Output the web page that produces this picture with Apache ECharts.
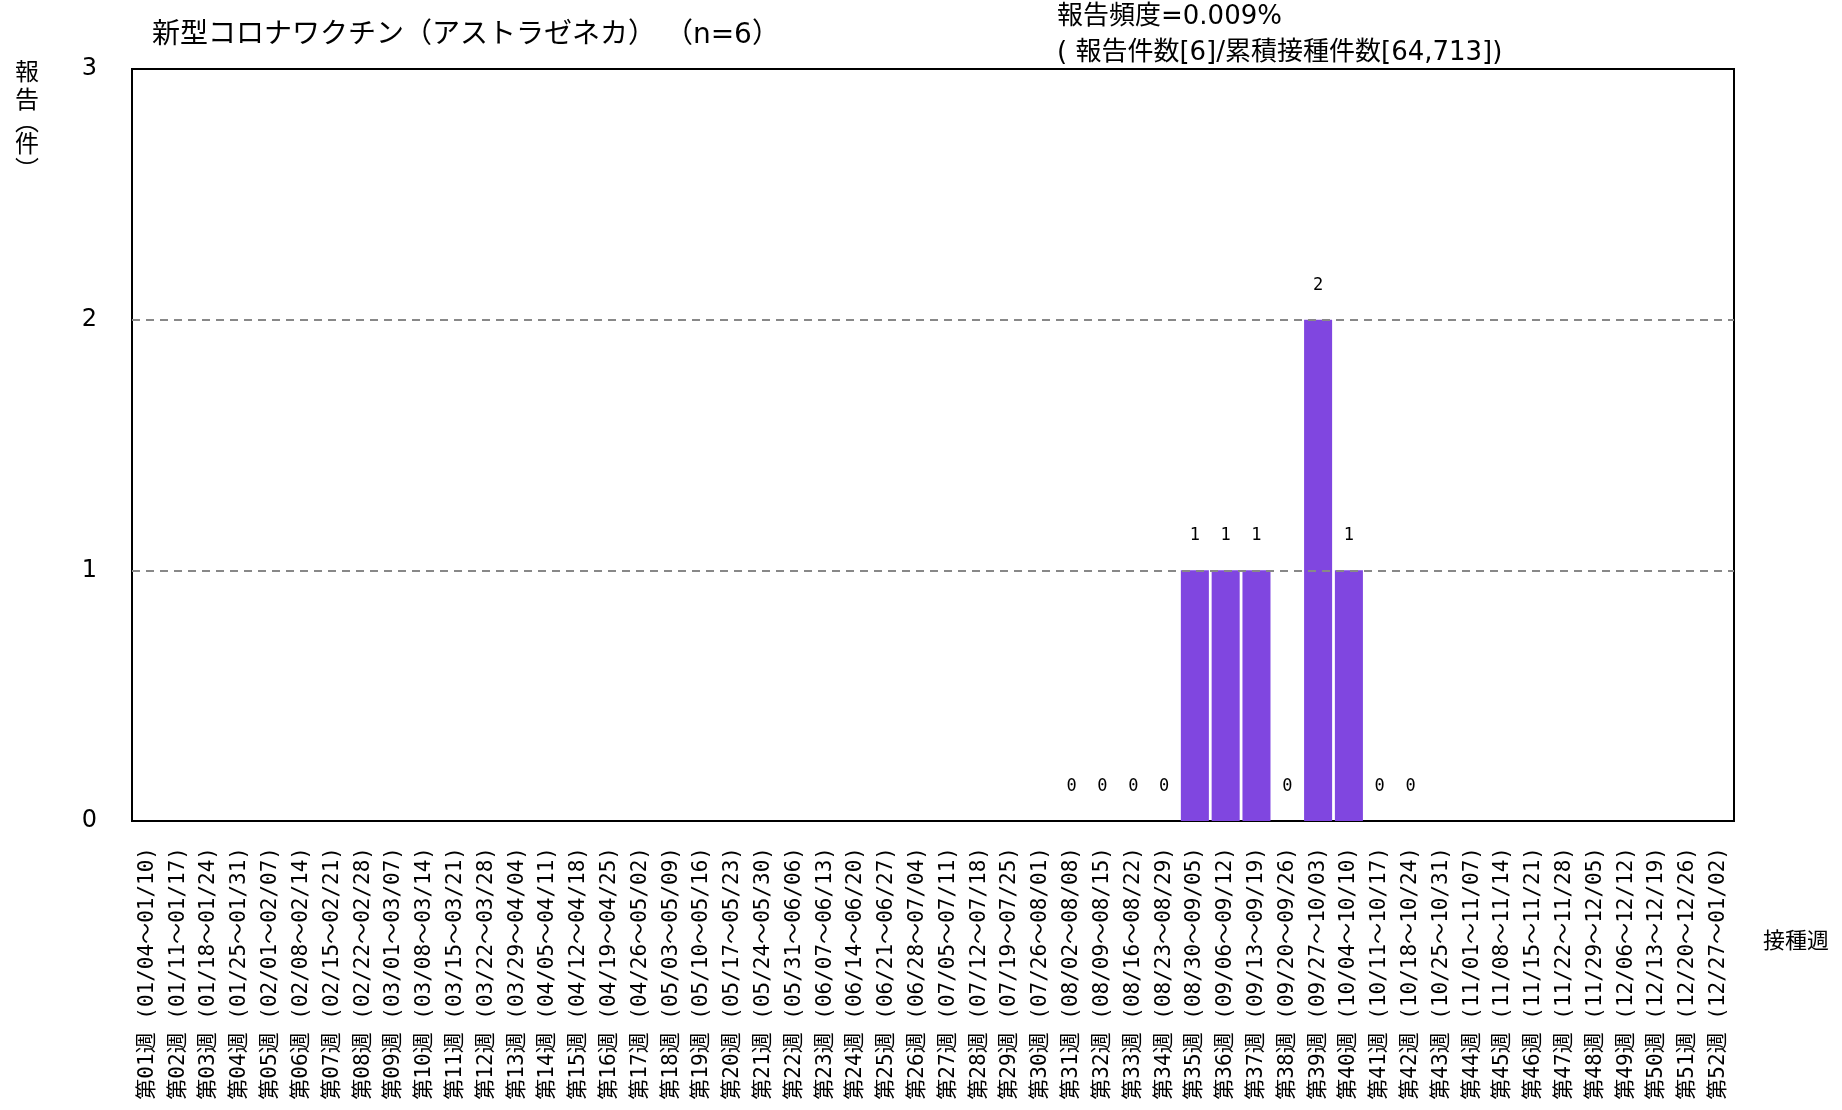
<!DOCTYPE html>
<html>
<head>
<meta charset="utf-8">
<script src="https://cdn.jsdelivr.net/npm/echarts@6/dist/echarts.min.js"></script>
<style>
html,body{margin:0;padding:0;background:#fff;}
#chart{width:1842px;height:1110px;}
</style>
</head>
<body>
<div id="chart"></div>
<script>
var weekNumbers = ['01','02','03','04','05','06','07','08','09','10','11','12','13','14','15','16','17','18','19','20','21','22','23','24','25','26','27','28','29','30','31','32','33','34','35','36','37','38','39','40','41','42','43','44','45','46','47','48','49','50','51','52'];
var weekRanges = ['01/04～01/10','01/11～01/17','01/18～01/24','01/25～01/31','02/01～02/07','02/08～02/14','02/15～02/21','02/22～02/28','03/01～03/07','03/08～03/14','03/15～03/21','03/22～03/28','03/29～04/04','04/05～04/11','04/12～04/18','04/19～04/25','04/26～05/02','05/03～05/09','05/10～05/16','05/17～05/23','05/24～05/30','05/31～06/06','06/07～06/13','06/14～06/20','06/21～06/27','06/28～07/04','07/05～07/11','07/12～07/18','07/19～07/25','07/26～08/01','08/02～08/08','08/09～08/15','08/16～08/22','08/23～08/29','08/30～09/05','09/06～09/12','09/13～09/19','09/20～09/26','09/27～10/03','10/04～10/10','10/11～10/17','10/18～10/24','10/25～10/31','11/01～11/07','11/08～11/14','11/15～11/21','11/22～11/28','11/29～12/05','12/06～12/12','12/13～12/19','12/20～12/26','12/27～01/02'];
var reportCounts = [null,null,null,null,null,null,null,null,null,null,null,null,null,null,null,null,null,null,null,null,null,null,null,null,null,null,null,null,null,null,0,0,0,0,1,1,1,0,2,1,0,0,null,null,null,null,null,null,null,null,null,null];
var yTicks = [0,1,2,3];
var titleText = '新型コロナワクチン（アストラゼネカ） （n=6）';
var noteLine1 = '報告頻度=0.009%';
var noteLine2 = '( 報告件数[6]/累積接種件数[64,713])';
var yAxisName = ['報','告','︵','件','︶'];
var xAxisName = '接種週';

var categories = weekNumbers.map(function(w,i){ return '第' + w + '週 (' + weekRanges[i] + ')'; });

var FONT = "'DejaVu Sans','Noto Sans CJK JP',sans-serif";
var MONO = "'DejaVu Sans Mono','Noto Sans CJK JP',monospace";
var CJK = "'Noto Sans CJK JP',sans-serif";
var chart = echarts.init(document.getElementById('chart'));
var yNamePos = [71, 99, 121, 143, 169];
var graphics = [
  {type:'text', x:152, y:36, style:{text:titleText, font:'28px ' + FONT, fill:'#000', verticalAlign:'middle'}},
  {type:'text', x:1057, y:17, style:{text:noteLine1, font:'26px ' + FONT, fill:'#000', verticalAlign:'middle'}},
  {type:'text', x:1057, y:53, style:{text:noteLine2, font:'26px ' + FONT, fill:'#000', verticalAlign:'middle'}},
  {type:'text', x:1763, y:940, style:{text:xAxisName, font:'22px ' + CJK, fill:'#000', verticalAlign:'middle'}}
];
yAxisName.forEach(function(ch,i){
  graphics.push({type:'text', x:27, y:yNamePos[i], style:{text:ch, font:'24px ' + CJK, fill:'#000', align:'center', verticalAlign:'middle'}});
});
chart.setOption({
  animation:false,
  backgroundColor:'#fff',
  grid:{left:132, right:108, top:69, bottom:289, show:true, borderColor:'#000', borderWidth:2, backgroundColor:'transparent'},
  xAxis:{
    type:'category', data:categories,
    axisLine:{show:true, lineStyle:{color:'#000', width:2}},
    axisTick:{show:false},
    axisLabel:{interval:0, rotate:90, fontSize:21, color:'#000', fontFamily:MONO, margin:26}
  },
  yAxis:{
    type:'value', min:yTicks[0], max:yTicks[yTicks.length-1], interval:1,
    axisLine:{show:false}, axisTick:{show:false}, splitLine:{show:false},
    axisLabel:{fontSize:24, color:'#000', fontFamily:FONT, margin:35}
  },
  graphic:graphics,
  series:[{
    type:'bar', data:reportCounts, barCategoryGap:'9%',
    itemStyle:{color:'#8046E0'},
    label:{show:true, position:'top', distance:26, fontSize:17, color:'#000', fontFamily:MONO},
    markLine:{
      silent:true, symbol:'none', label:{show:false},
      lineStyle:{type:[8,6], color:'#888', width:2},
      data:[{yAxis:1},{yAxis:2}]
    }
  }]
});
</script>
</body>
</html>
